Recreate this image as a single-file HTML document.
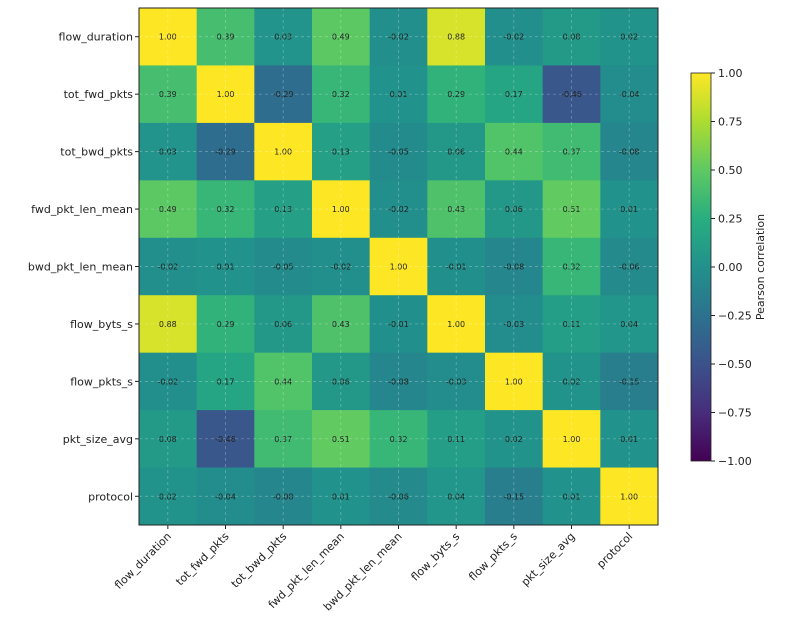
<!DOCTYPE html>
<html><head><meta charset="utf-8"><style>
body{margin:0;background:#fff;}
svg text{font-family:"DejaVu Sans","Liberation Sans",sans-serif;}
</style></head><body>
<svg id="chart" width="790" height="628" viewBox="0 0 790 628" xmlns="http://www.w3.org/2000/svg">
<defs>
<linearGradient id="vir" x1="0" y1="1" x2="0" y2="0">
<stop offset="0" stop-color="#440154"/><stop offset="0.125" stop-color="#472d7b"/><stop offset="0.25" stop-color="#3b528b"/><stop offset="0.375" stop-color="#2c728e"/><stop offset="0.5" stop-color="#21918c"/><stop offset="0.625" stop-color="#28ae80"/><stop offset="0.75" stop-color="#5ec962"/><stop offset="0.875" stop-color="#addc30"/><stop offset="1" stop-color="#fde725"/>
</linearGradient>
</defs>
<g id="cells"></g><g id="grid"></g><g id="labels"></g>
<rect x="139" y="8" width="519" height="517" fill="none" stroke="#222" stroke-width="1"/>
<rect x="691" y="73" width="20" height="388" fill="url(#vir)" stroke="#222" stroke-width="0.8"/>
<g id="cbticks"></g>
<text transform="translate(764,267) rotate(-90)" text-anchor="middle" font-size="11" fill="#222">Pearson correlation</text>
</svg>
<script>
const features = ["flow_duration","tot_fwd_pkts","tot_bwd_pkts","fwd_pkt_len_mean","bwd_pkt_len_mean","flow_byts_s","flow_pkts_s","pkt_size_avg","protocol"];
const matrix = [
[1,0.39,0.03,0.49,-0.02,0.88,-0.02,0.08,0.02],
[0.39,1,-0.29,0.32,0.01,0.29,0.17,-0.46,-0.04],
[0.03,-0.29,1,0.13,-0.05,0.06,0.44,0.37,-0.08],
[0.49,0.32,0.13,1,-0.02,0.43,0.06,0.51,0.01],
[-0.02,0.01,-0.05,-0.02,1,-0.01,-0.08,0.32,-0.06],
[0.88,0.29,0.06,0.43,-0.01,1,-0.03,0.11,0.04],
[-0.02,0.17,0.44,0.06,-0.08,-0.03,1,0.02,-0.15],
[0.08,-0.46,0.37,0.51,0.32,0.11,0.02,1,0.01],
[0.02,-0.04,-0.08,0.01,-0.06,0.04,-0.15,0.01,1]];
const cbTicks = [1.00,0.75,0.50,0.25,0.00,-0.25,-0.50,-0.75,-1.00];
const NS="http://www.w3.org/2000/svg";
const X0=139,Y0=8,W=519,H=517,CB0=73,CBH=388;
const n=features.length,cw=W/n,ch=H/n;
const xs=i=>X0+i*cw, ys=j=>Y0+j*ch, cby=v=>CB0+(1-v)/2*CBH;
const stops=[[68,1,84],[71,45,123],[59,82,139],[44,114,142],[33,145,140],[40,174,128],[94,201,98],[173,220,48],[253,231,37]];
function vir(v){let t=(v+1)/2*8;let i=Math.min(7,Math.floor(t)),f=t-i;const a=stops[i],b=stops[i+1];return `rgb(${a.map((c,k)=>Math.round(c+(b[k]-c)*f)).join(',')})`;}
function el(tag,attrs,parent,txt){const e=document.createElementNS(NS,tag);for(const k in attrs)e.setAttribute(k,attrs[k]);if(txt!==undefined)e.textContent=txt;parent.appendChild(e);return e;}
const cells=document.getElementById('cells'),grid=document.getElementById('grid'),labels=document.getElementById('labels'),cbt=document.getElementById('cbticks');
matrix.forEach((row,j)=>row.forEach((v,i)=>{
 const r=el('rect',{x:xs(i),y:ys(j),width:cw+0.5,height:ch+0.5,fill:vir(v)},cells);
 
 
 const t=el('text',{x:xs(i)+cw/2,y:ys(j)+ch/2+3,'text-anchor':'middle','font-size':'8',fill:'#222'},cells,v.toFixed(2));
 
 
}));
features.forEach((f,k)=>{
 const cx=xs(k)+cw/2,cy=ys(k)+ch/2;
 el('line',{x1:cx,y1:Y0,x2:cx,y2:Y0+H,stroke:'#fff','stroke-opacity':0.35,'stroke-dasharray':'3,3','stroke-width':0.7},grid);
 el('line',{x1:X0,y1:cy,x2:X0+W,y2:cy,stroke:'#fff','stroke-opacity':0.35,'stroke-dasharray':'3,3','stroke-width':0.7},grid);
 el('line',{x1:X0-4,y1:cy,x2:X0,y2:cy,stroke:'#222'},labels);
 el('line',{x1:cx,y1:Y0+H,x2:cx,y2:Y0+H+4,stroke:'#222'},labels);
 const yl=el('text',{x:X0-6,y:cy+4,'text-anchor':'end','font-size':'11',fill:'#222'},labels,f);
 
 
 const xl=el('text',{transform:`translate(${cx+4},${Y0+H+12}) rotate(-45)`,'text-anchor':'end','font-size':'11',fill:'#222'},labels,f);
 
 
});
cbTicks.forEach(v=>{
 const y=cby(v);
 el('line',{x1:711,y1:y,x2:715,y2:y,stroke:'#222'},cbt);
 const t=el('text',{x:718,y:y+4,'font-size':'11',fill:'#222'},cbt,(v<0?'\u2212':'')+Math.abs(v).toFixed(2));
 
 
});
</script>
</body></html>
